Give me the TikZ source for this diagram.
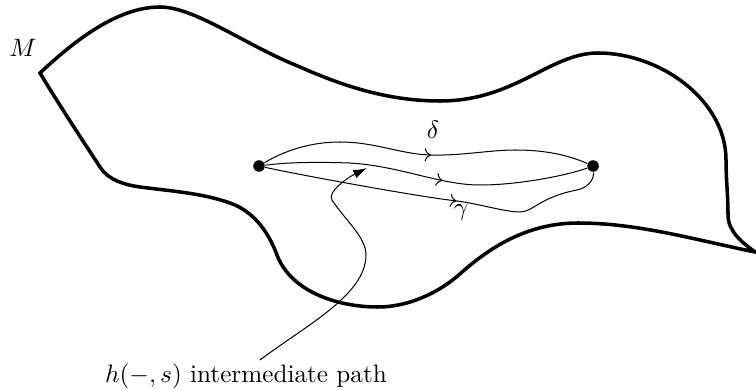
\documentclass[tikz,border=0pt]{standalone}
\usetikzlibrary{arrows.meta,decorations.markings}

\begin{document}
\begin{tikzpicture}[
    x=0.397pt, y=-0.397pt,
    outline/.style={line width=1.4pt, line join=miter},
    curve/.style={thin},
    dot/.style={circle, fill, inner sep=0pt, minimum size=4.6pt},
    lbl/.style={inner sep=1pt},
    midarrow/.style={postaction={decorate},
        decoration={markings, mark=at position #1 with {\arrow{>}}}},
]
\useasboundingbox (0,0) rectangle (756,390);

% the manifold
\draw[outline] (40,73)
    .. controls (70,45) and (115,7) .. (160,7)
    .. controls (195,7) and (245,45) .. (300,67)
    .. controls (345,87) and (390,101) .. (440,101)
    .. controls (515,101) and (550,53) .. (598,53)
    .. controls (660,53) and (726,100) .. (726,160)
    .. controls (726,180) and (728,195) .. (728,215)
    .. controls (728,232) and (743,243) .. (755,252)
    .. controls (696,240) and (638,223) .. (578,223)
    .. controls (525,223) and (487,250) .. (461,273)
    .. controls (439,293) and (408,307) .. (378,307)
    .. controls (338,307) and (291,292) .. (277,255)
    .. controls (268,231) and (253,211) .. (230,203)
    .. controls (202,193) and (170,191) .. (140,187)
    .. controls (125,185) and (108,180) .. (100,167)
    .. controls (81,138) and (58,103) .. (40,73) -- cycle;
\node (mlbl) at (23,48) {$M$};

% end points
\node[dot] (p) at (259,166) {};
\node[dot] (q) at (593,166) {};

% the three paths
\draw[curve, midarrow=0.52] (p)
    .. controls (284,151) and (310,142) .. (340,142)
    .. controls (375,142) and (400,154) .. (430,155)
    .. controls (460,156) and (490,150) .. (515,150)
    .. controls (545,150) and (568,155) .. (q);
\draw[curve, midarrow=0.55] (p)
    .. controls (290,162) and (320,162) .. (350,163)
    .. controls (400,166) and (440,185) .. (480,185)
    .. controls (520,185) and (568,175) .. (q);
\draw[curve, midarrow=0.56] (p)
    .. controls (300,175) and (420,197) .. (457,201)
    .. controls (480,204) and (505,212) .. (520,212)
    .. controls (533,212) and (540,197) .. (577,190)
    .. controls (590,187) and (594,178) .. (q);
\node (delta) at (433,130) {$\delta$};
\node (gamma) at (461,213) {$\gamma$};

% intermediate path label
\node[lbl, anchor=base] (hlbl) at (246,382) {$h(-,s)$ intermediate path};
\coordinate (h) at (367,168);
\draw[curve, -{Latex[length=5.5pt, width=3.5pt]}] ([xshift=5.5pt]hlbl.north)
    .. controls (305,326) and (366,295) .. (366,255)
    .. controls (366,237) and (345,220) .. (332,200)
    .. controls (327,192) and (347,178) .. (h);

\end{tikzpicture}
\end{document}
